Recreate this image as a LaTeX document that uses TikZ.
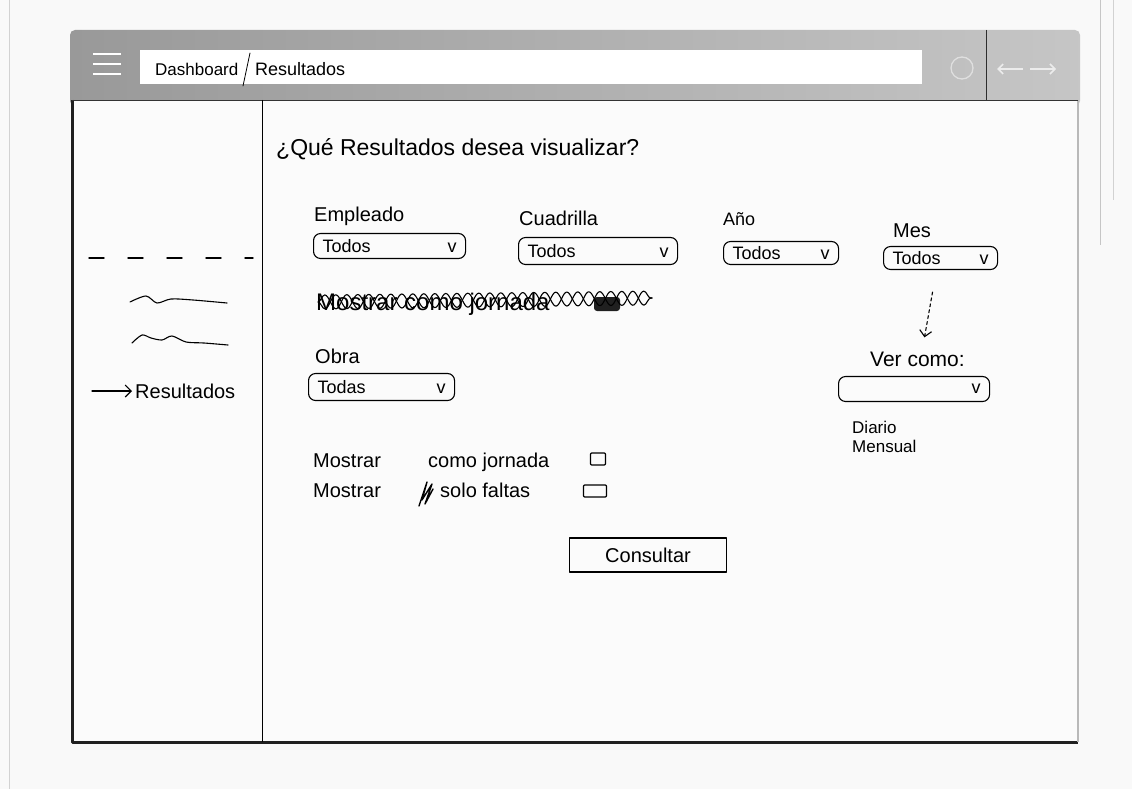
\documentclass[tikz,border=0pt]{standalone}
\usepackage{fontspec}
\setmainfont{Liberation Sans}
\usetikzlibrary{arrows.meta}
\usetikzlibrary{decorations.pathmorphing}

\tikzset{
  hand/.style={line width=1.1pt, line cap=round, line join=round},
  lbl/.style={anchor=base west, inner sep=0pt, font=\fontsize{20}{24}\selectfont},
  combo/.style={draw, hand, rounded corners=7pt, anchor=west, align=left,
    inner xsep=9pt, inner ysep=0pt, font=\fontsize{18}{20}\selectfont},
  tickbox/.style={draw, hand, inner sep=0pt, rounded corners=1pt},
  tachon/.style={hand, decorate, decoration={snake, amplitude=7pt, segment length=22pt}},
}

\begin{document}
\begin{tikzpicture}[x=1pt, y=-1pt]
  \useasboundingbox (0,0) rectangle (1132,789);
  \fill[gray!5] (0,0) rectangle (1132,789);
  \draw[gray!35] (9,0) -- (9,789);
  \draw[gray!45] (1100,0) -- (1100,245);
  \draw[gray!35] (1113,0) -- (1113,200);

  % window
  \shade[left color=gray!80, right color=gray!45, rounded corners=5pt] (70,30) rectangle (1080,106);
  \fill[gray!3] (72,100) rectangle (1078,742);
  \draw[line width=3pt, gray!25!black, line join=round] (72,100) -- (72,742) -- (1078,742);
  \draw[line width=1.5pt, gray!55] (1078,100) -- (1078,742);
  \draw[line width=0.8pt, gray!40!black] (72,100) -- (1078,100);

  \node (url) [fill=white, inner sep=0pt, minimum width=782pt, minimum height=34pt] at (531,67) {};
  \foreach \y in {54,64,74}
    \draw[white, line width=2.6pt] (93,\y) -- (121,\y);
  \draw[gray!25, line width=1.3pt] (962,68) circle (11);
  \draw[gray!15, line width=1.6pt, -{Straight Barb[length=5pt]}] (1023,69) -- (997,69);
  \draw[gray!15, line width=1.6pt, -{Straight Barb[length=5pt]}] (1030,69) -- (1056,69);
  \draw[gray!35!black, line width=1pt] (986,30) -- (986,100);

  \draw (155,76)
    node (dash) [lbl, font=\fontsize{17}{20}\selectfont] {Dashboard} ++(100,0)
    node (rutares) [lbl, font=\fontsize{18}{20}\selectfont] {Resultados}
    ;
  \draw[hand, line width=0.8pt] (243,86) -- (250,53);

  % menu
  \draw[line width=0.9pt] (262,100) -- (262,742);
  \draw[hand, line width=1.4pt, dash pattern=on 15pt off 24pt] (89,258) -- (253,258);
  \draw[hand] plot[smooth] coordinates {(130,302) (146,296) (157,303) (171,299) (193,300) (227,303)};
  \draw[hand] plot[smooth] coordinates {(132,343) (142,335) (151,338) (162,340) (172,336) (186,342) (204,343) (228,345)};
  \node (activo) [lbl] at (135,398) {Resultados};
  \coordinate (flecha) at (92,391);
  \draw[hand, -{Straight Barb[length=6pt]}, shorten >=3pt] (flecha) -- (activo.west |- flecha);

  % formulario
  \node (titulo) [lbl, font=\fontsize{23}{26}\selectfont] at (276,156) {¿Qué Resultados desea visualizar?};

  \node (lemp) [lbl] at (314,221) {Empleado};
  \node (lcua) [lbl] at (519,225) {Cuadrilla};
  \node (lano) [lbl, font=\fontsize{18}{20}\selectfont] at (723,225) {Año};
  \node (lmes) [lbl] at (893,237) {Mes};
  \node (emp) [combo, text width=134pt, minimum height=25pt] at (313,246) {Todos\hfill v};
  \node (cua) [combo, text width=141pt, minimum height=27pt] at (518,251) {Todos\hfill v};
  \node (ano) [combo, text width=97pt, minimum height=23pt] at (723,253) {Todos\hfill v};
  \node (mes) [combo, text width=96pt, minimum height=23pt] at (883,258) {Todos\hfill v};

  \node (tachado) [lbl, font=\fontsize{24}{26}\selectfont] at (316,310) {Mostrar como jornada};
  \node (tachbox) [fill=gray!25!black, rounded corners=3pt, minimum width=26pt, minimum height=14pt] at (607,304) {};
  \draw[tachon] (318,302) -- (652,298);
  \draw[tachon, decoration={mirror}] (318,302) -- (652,298);

  \node (lobra) [lbl] at (315,363) {Obra};
  \node (obra) [combo, text width=128pt, minimum height=27pt] at (308,387) {Todas\hfill v};

  \node (vercomo) [lbl, font=\fontsize{21}{24}\selectfont] at (870,366) {Ver como:};
  \node (ver) [combo, text width=133pt, minimum height=25pt] at (838,389) {\hfill v};
  \node (diario) [lbl, font=\fontsize{17}{20}\selectfont] at (852,433) {Diario};
  \node (mensual) [lbl, font=\fontsize{17}{20}\selectfont] at (852,452) {Mensual};
  \path (node cs:name=mes,anchor=south) +(-8,22) coordinate (mesb) {};
  \path (node cs:name=vercomo,anchor=north) +(7,-14) coordinate (verb) {};
  \draw[hand, dashed, -{Straight Barb[length=6pt]}] (mesb) -- (verb);

  \draw (313,467)
    node (most1) [lbl] {Mostrar} ++(115,0)
    node (jorn) [lbl] {como jornada}
    ;
  \node (chk1) [tickbox, minimum width=15pt, minimum height=12pt] at (598,459) {};
  \draw (313,497)
    node (most2) [lbl] {Mostrar} ++(127,0)
    node (faltas) [lbl] {solo faltas}
    ;
  \draw[hand, line width=1.4pt] (419,506) -- (427,482) -- (422,500) -- (432,484) -- (425,504) -- (433,489);
  \node (chk2) [tickbox, minimum width=23pt, minimum height=12pt] at (595,491) {};

  \node (consultar) [draw, hand, minimum width=157pt, minimum height=34pt, font=\fontsize{20}{24}\selectfont] at (648,555) {Consultar};
\end{tikzpicture}
\end{document}
